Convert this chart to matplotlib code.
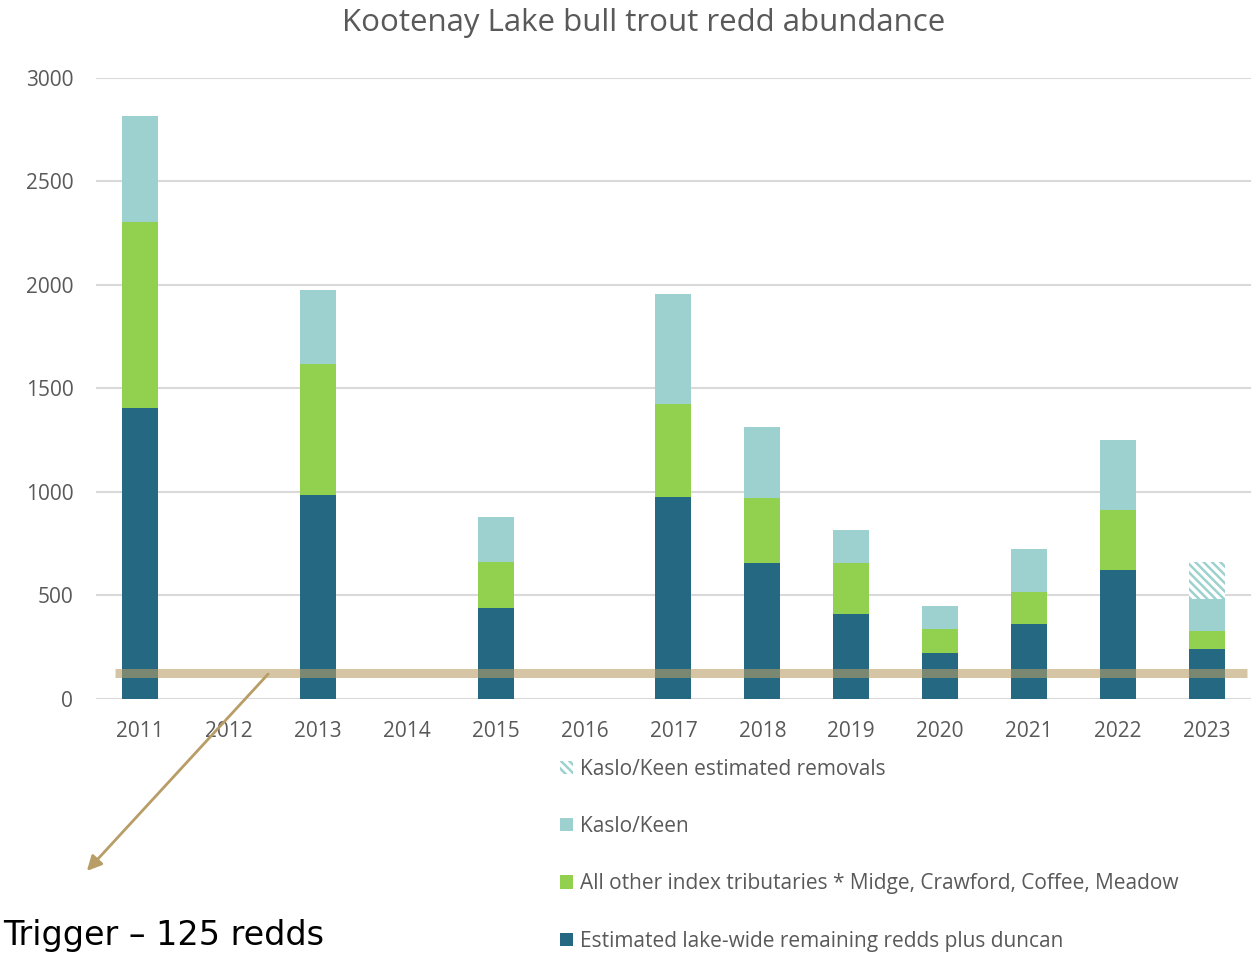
import numpy as np
import matplotlib
matplotlib.use('Agg')
import matplotlib.pyplot as plt

# Data
years = ['2011', '2012', '2013', '2014', '2015', '2016', '2017',
         '2018', '2019', '2020', '2021', '2022', '2023']
lake_wide = [1406, 0, 985, 0, 440, 0, 976, 657, 411, 222, 362, 623, 241]
other_tribs = [898, 0, 633, 0, 222, 0, 449, 314, 246, 116, 155, 290, 89]
kaslo_keen = [512, 0, 358, 0, 217, 0, 531, 343, 159, 111, 208, 338, 153]
kaslo_removals = [0, 0, 0, 0, 0, 0, 0, 0, 0, 0, 0, 0, 177]
trigger = 125

labels = ['Kaslo/Keen estimated removals', 'Kaslo/Keen',
          'All other index tributaries * Midge, Crawford, Coffee, Meadow',
          'Estimated lake-wide remaining redds plus duncan']

c_dark = '#246882'
c_green = '#92D050'
c_kaslo = '#9DD1CF'
c_tan = '#B89D66'
c_text = '#595959'

plt.rcParams['font.family'] = ['Open Sans', 'DejaVu Sans']
plt.rcParams['hatch.linewidth'] = 1.8

fig = plt.figure(figsize=(12.59, 9.57), dpi=100)
ax = fig.add_axes([0.0759, 0.2696, 0.918, 0.649])

x = np.arange(len(years))
w = 0.405
lake = np.array(lake_wide)
oth = np.array(other_tribs)
kk = np.array(kaslo_keen)
rem = np.array(kaslo_removals)

b1 = ax.bar(x, lake, w, color=c_dark, zorder=2)
b2 = ax.bar(x, oth, w, bottom=lake, color=c_green, zorder=2)
b3 = ax.bar(x, kk, w, bottom=lake + oth, color=c_kaslo, zorder=2)
b4 = ax.bar(x, rem, w, bottom=lake + oth + kk, color='white',
            edgecolor=c_kaslo, hatch='\\\\\\\\', linewidth=0, zorder=2)

# trigger line
ax.plot([-0.28, 12.45], [trigger, trigger], color=c_tan, alpha=0.59,
        lw=6.5, solid_capstyle='butt', zorder=3)

ax.set_xlim(-0.5, 12.5)
ax.set_ylim(0, 3000)
ax.set_yticks([0, 500, 1000, 1500, 2000, 2500, 3000])
ax.set_xticks(x)
ax.set_xticklabels(years)
ax.yaxis.grid(True, color='#D9D9D9', lw=1.5, zorder=0)
ax.set_axisbelow(True)
for s in ax.spines.values():
    s.set_visible(False)
ax.tick_params(axis='both', length=0, labelsize=15, colors=c_text)
ax.tick_params(axis='x', pad=16)
ax.tick_params(axis='y', pad=16)

fig.text(0.511, 0.976, 'Kootenay Lake bull trout redd abundance',
         ha='center', va='center', fontsize=22.5, color=c_text)

leg = fig.legend([b4, b3, b2, b1], labels, loc='upper left',
                 bbox_to_anchor=(0.445, 0.207), frameon=False,
                 fontsize=15, labelcolor=c_text, handlelength=0.6,
                 handleheight=0.6, handletextpad=0.35, labelspacing=1.74,
                 borderaxespad=0, borderpad=0)

# arrow and trigger label
fig.patches.append(matplotlib.patches.FancyArrowPatch(
    (270 / 1259, 1 - 672 / 957), (85 / 1259, 1 - 873 / 957),
    transform=fig.transFigure, arrowstyle='-|>', mutation_scale=22,
    color=c_tan, lw=2))
fig.text(3 / 1259, 1 - 945 / 957, 'Trigger – 125 redds', ha='left',
         va='baseline', fontsize=24, color='black', family='DejaVu Sans')

fig.savefig('out.png', dpi=100)
